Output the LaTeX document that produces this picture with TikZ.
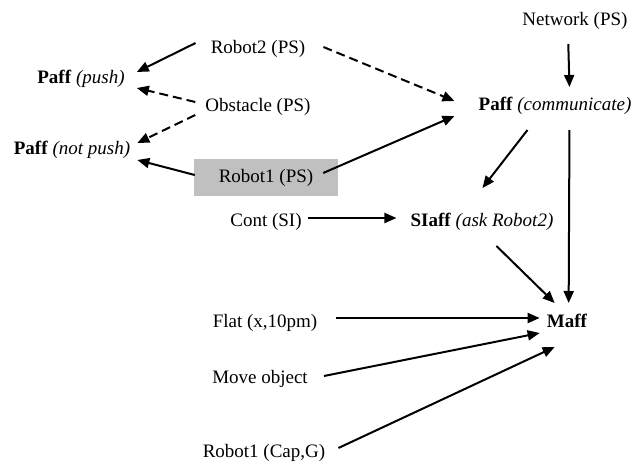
\documentclass[tikz,border=0pt]{standalone}
\usepackage{fontspec}
\setmainfont{Liberation Serif}
\usetikzlibrary{arrows.meta}
\definecolor{boxgray}{RGB}{192,192,192}
\tikzset{
  lbl/.style={inner sep=0pt, text height=14pt, text depth=4pt, font=\fontsize{19}{22}\selectfont},
  grayfill/.style={lbl, fill=boxgray, minimum width=144pt, minimum height=37pt},
  arr/.style={line width=2pt, -{Triangle[length=12pt,width=10pt]}},
  darr/.style={arr, dash pattern=on 9pt off 5pt},
}
\begin{document}
\begin{tikzpicture}[x=1pt, y=-1pt]
\useasboundingbox (0,0) rectangle (633,464);
\node[lbl] (net) at (575,20) {Network (PS)};
\node[lbl] (r2) at (258,48) {Robot2 (PS)};
\node[lbl] (ppush) at (81,78) {\textbf{Paff} \textit{(push)}};
\node[lbl] (obs) at (258,106) {Obstacle (PS)};
\node[lbl] (pnot) at (72,149) {\textbf{Paff} \textit{(not push)}};
\node[grayfill] (r1) at (266,177.5) {Robot1 (PS)};
\node[lbl] (pcom) at (555,105) {\textbf{Paff} \textit{(communicate)}};
\node[lbl] (cont) at (266,221) {Cont (SI)};
\node[lbl] (si) at (482,221) {\textbf{SIaff} \textit{(ask Robot2)}};
\node[lbl] (maff) at (567,322) {\textbf{Maff}};
\node[lbl] (flat) at (265,322) {Flat (x,10pm)};
\node[lbl] (move) at (260,378) {Move object};
\node[lbl] (rcap) at (264,452) {Robot1 (Cap,G)};

\draw[arr] ([shift={(-15,-5)}]r2.west) -- ([shift={(12,-6)}]ppush.east);
\draw[darr] ([shift={(-10,-4)}]obs.west) -- ([shift={(12,10)}]ppush.east);
\draw[darr] ([shift={(-10,9)}]obs.west) -- ([shift={(7,-6)}]pnot.east);
\draw[arr] ([shift={(1,-2.5)}]r1.west) -- ([shift={(7,11)}]pnot.east);
\draw[darr] ([shift={(18,-1)}]r2.east) -- ([shift={(-24,-4)}]pcom.west);
\draw[arr] ([shift={(-15,-4.5)}]r1.east) -- ([shift={(-24,11)}]pcom.west);
\draw[arr] ([shift={(46,24)}]net.west) -- ([shift={(91,-18)}]pcom.west);
\draw[arr] ([shift={(49,25)}]pcom.west) -- ([shift={(72,-33)}]si.west);
\draw[arr] ([shift={(91,25)}]pcom.west) -- ([shift={(22,-19)}]maff.west);
\draw[arr] ([shift={(6,-3)}]cont.east) -- ([shift={(-14,-3)}]si.west);
\draw[arr] ([shift={(86,25)}]si.west) -- ([shift={(8,-19)}]maff.west);
\draw[arr] ([shift={(19,-4)}]flat.east) -- ([shift={(-7,-4)}]maff.west);
\draw[arr] ([shift={(16,-2)}]move.east) -- ([shift={(-7,11)}]maff.west);
\draw[arr] ([shift={(13,-4)}]rcap.east) -- ([shift={(8,25)}]maff.west);
\end{tikzpicture}
\end{document}
